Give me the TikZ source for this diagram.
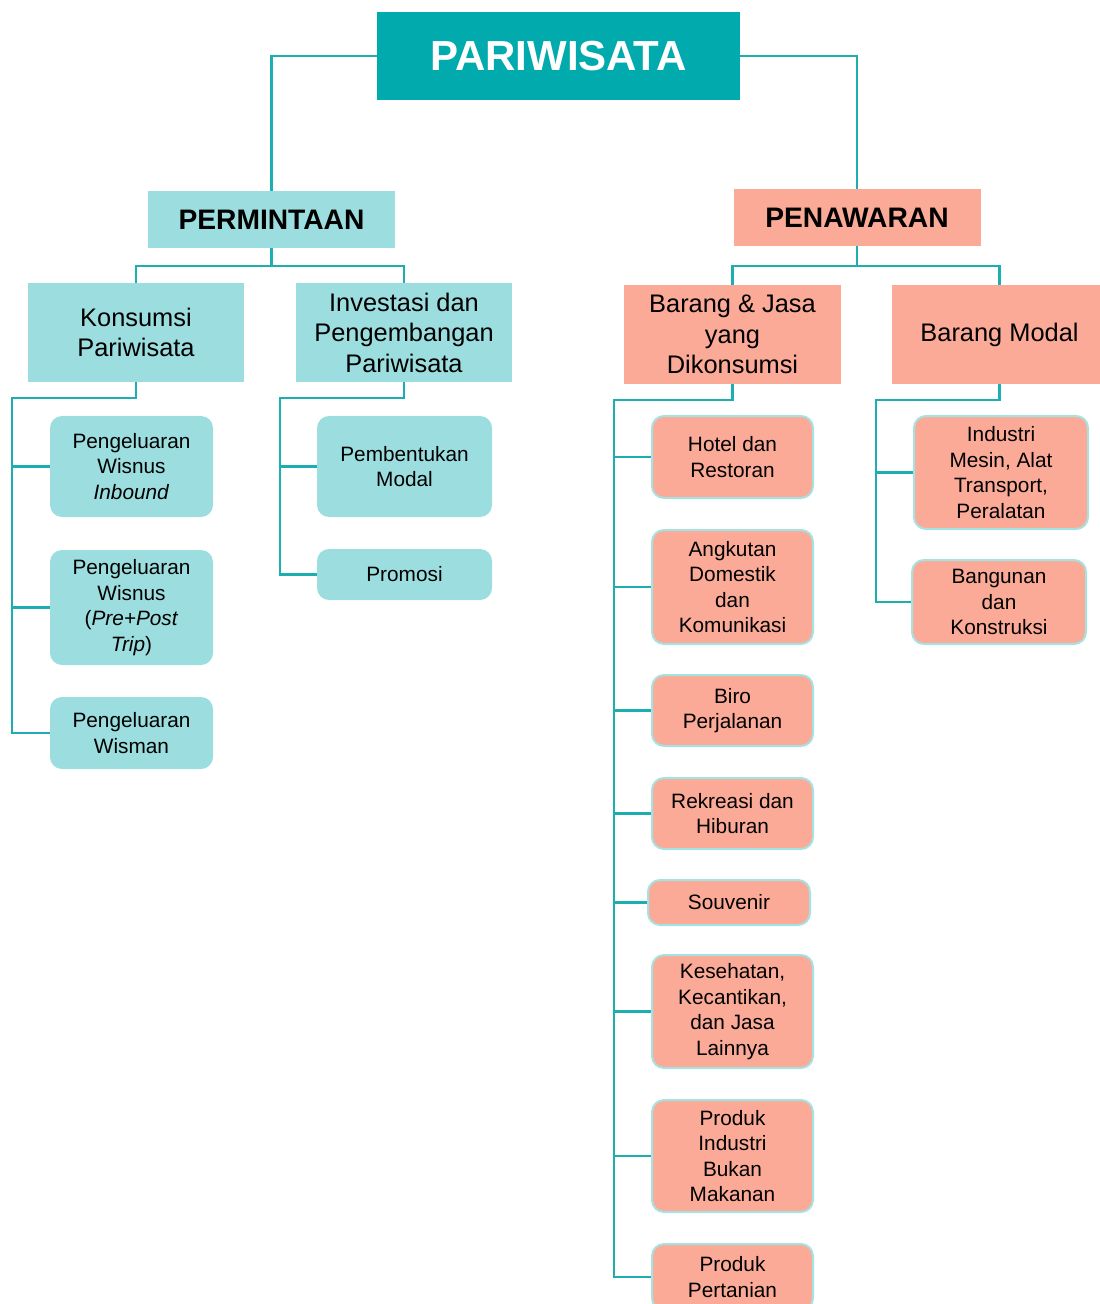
\documentclass[tikz,border=0pt]{standalone}
\usepackage{fontspec}
\setmainfont{Liberation Sans}
\usetikzlibrary{positioning,calc}
\definecolor{topteal}{HTML}{00AAAD}
\definecolor{lteal}{HTML}{9CDEDF}
\definecolor{salmon}{HTML}{FCAA98}
\definecolor{linkteal}{HTML}{1DAEB1}
\definecolor{rimteal}{HTML}{A6E2E2}
\begin{document}
\begin{tikzpicture}[
        x=0.5pt, y=-0.5pt,
        every node/.style={inner sep=0pt, align=center},
        root/.style={rectangle, fill=topteal, text=white, font=\fontsize{21}{24}\selectfont\bfseries, minimum width=181.5pt, minimum height=44pt},
        head/.style={rectangle, font=\fontsize{14.1}{17}\selectfont\bfseries, minimum width=123.5pt, minimum height=28.5pt},
        group/.style={rectangle, font=\fontsize{12.7}{15.25}\selectfont, minimum width=108pt, minimum height=49.5pt},
        leaf/.style={rectangle, rounded corners=6pt, font=\fontsize{10.4}{12.75}\selectfont, minimum width=81.5pt},
        demand/.style={fill=lteal},
        supply/.style={fill=salmon},
        leafs/.style={leaf, supply, draw=rimteal, line width=1pt},
        line/.style={draw=linkteal, line width=1.1pt}
    ]
        \useasboundingbox (0,0) rectangle (1099,1304);

        % top levels
        \node[root] (pariwisata) at (558.5,56) {PARIWISATA};
        \node[head, demand] (permintaan) at (271.5,219.5) {PERMINTAAN};
        \node[head, supply] (penawaran) at (857,217.5) {PENAWARAN};

        \node[group, demand] (konsumsi) at (136,332.5) {Konsumsi\\Pariwisata};
        \node[group, demand] (investasi) at (404,332.5) {Investasi dan\\Pengembangan\\Pariwisata};
        \node[group, supply, minimum width=108.5pt] (barangjasa) at (732.5,334.5) {Barang \& Jasa\\yang\\Dikonsumsi};
        \node[group, supply] (barangmodal) at (999.5,334.5) {Barang Modal};

        % demand leaves
        \node[leaf, demand, minimum height=50.5pt] (inbound) at (131.5,466.5) {Pengeluaran\\Wisnus\\\textit{Inbound}};
        \node[leaf, demand, minimum height=57.5pt] (prepost) at (131.5,607.5) {Pengeluaran\\Wisnus\\(\textit{Pre+Post}\\\textit{Trip})};
        \node[leaf, demand, minimum height=36pt] (wisman) at (131.5,733) {Pengeluaran\\Wisman};
        \node[leaf, demand, minimum width=87.5pt, minimum height=50.5pt] (pembentukan) at (404.5,466.5) {Pembentukan\\Modal};
        \node[leaf, demand, minimum width=87.5pt, minimum height=25.5pt] (promosi) at (404.5,574.5) {Promosi};

        % supply leaves
        \node[leafs, minimum width=80.5pt, minimum height=41pt] (hotel) at (732.5,457) {Hotel dan\\Restoran};
        \node[leafs, minimum width=80.5pt, minimum height=57pt] (angkutan) at (732.5,587) {Angkutan\\Domestik\\dan\\Komunikasi};
        \node[leafs, minimum width=80.5pt, minimum height=35.5pt] (biro) at (732.5,710.5) {Biro\\Perjalanan};
        \node[leafs, minimum width=80.5pt, minimum height=35.5pt] (rekreasi) at (732.5,813.5) {Rekreasi dan\\Hiburan};
        \node[leafs, minimum width=81pt, minimum height=22.5pt] (souvenir) at (729,902.5) {Souvenir};
        \node[leafs, minimum width=80.5pt, minimum height=56.5pt] (kesehatan) at (732.5,1011.5) {Kesehatan,\\Kecantikan,\\dan Jasa\\Lainnya};
        \node[leafs, minimum width=80.5pt, minimum height=56pt] (nonmakanan) at (732.5,1156) {Produk\\Industri\\Bukan\\Makanan};
        \node[leafs, minimum width=80.5pt, minimum height=33pt] (pertanian) at (732.5,1277) {Produk\\Pertanian};
        \node[leafs, minimum width=87pt, minimum height=56.5pt] (industri) at (1001,472.5) {Industri\\Mesin, Alat\\Transport,\\Peralatan};
        \node[leafs, minimum width=87pt, minimum height=42pt] (bangunan) at (999,602) {Bangunan\\dan\\Konstruksi};

        % connectors
        \draw[line] (pariwisata.west) -| (permintaan.north);
        \draw[line] (pariwisata.east) -| (penawaran.north);

        \coordinate (busl) at (271.5,266);
        \coordinate (busr) at (857,266);
        \draw[line] (permintaan.south) -- (busl);
        \draw[line] (konsumsi.north) |- (busl) -| (investasi.north);
        \draw[line] (penawaran.south) -- (busr);
        \draw[line] (barangjasa.north) |- (busr) -| (barangmodal.north);

        \coordinate (railk) at (12,398);
        \coordinate (raili) at (280,398);
        \coordinate (railb) at (614,400);
        \coordinate (railm) at (876,400);
        \draw[line] (konsumsi.south) |- (railk) |- (wisman.west);
        \draw[line] (investasi.south) |- (raili) |- (promosi.west);
        \draw[line] (barangjasa.south) |- (railb) |- (pertanian.west);
        \draw[line] (barangmodal.south) |- (railm) |- (bangunan.west);
        \foreach \n in {inbound,prepost}
            \draw[line] (railk |- \n) -- (\n.west);
        \draw[line] (raili |- pembentukan) -- (pembentukan.west);
        \foreach \n in {hotel,angkutan,biro,rekreasi,souvenir,kesehatan,nonmakanan}
            \draw[line] (railb |- \n) -- (\n.west);
        \draw[line] (railm |- industri) -- (industri.west);
    \end{tikzpicture}
\end{document}
